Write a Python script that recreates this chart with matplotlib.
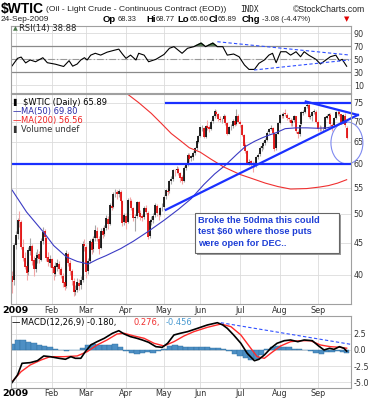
import numpy as np
import matplotlib
matplotlib.use("Agg")
import matplotlib.pyplot as plt
from matplotlib.patches import Ellipse, Rectangle

# ---- price data: trading days 30-Dec-2008 .. 24-Sep-2009 (index = trading day) ----
opens = [39.8, 39.2, 44.6, 46.4, 48.9, 48.5, 44.2, 42.5, 41.3, 40.4, 43.6, 44.4, 42.2, 40.9, 42.5, 43.1,
         42.2, 45.3, 46.9, 45.8, 42.7, 41.8, 42.3, 41.1, 40.1, 41.2, 41.6, 40.9, 39.8, 38.9, 38.4, 43.2,
         41.7, 40.6, 39.1, 37.5, 37.9, 38.8, 38.5, 39.3, 44.7, 44.3, 40.5, 42.1, 45.1, 43.9, 45.7, 47.0,
         45.6, 44.1, 46.9, 46.4, 47.5, 49.1, 48.2, 51.5, 51.2, 53.9, 54.1, 53.7, 54.2, 52.3, 48.5, 49.6,
         48.5, 52.5, 52.4, 51.0, 49.3, 49.5, 52.1, 50.2, 49.5, 49.4, 51.1, 50.2, 46.0, 48.5, 48.8, 49.7,
         51.5, 50.0, 49.8, 51.1, 51.2, 53.3, 54.4, 54.3, 56.4, 56.8, 58.5, 58.6, 58.8, 57.9, 57.1, 56.4,
         59.1, 59.8, 61.9, 61.2, 61.6, 62.4, 63.6, 65.0, 66.4, 68.5, 68.4, 66.2, 68.9, 68.5, 68.2, 70.1,
         71.4, 72.6, 71.9, 70.7, 70.4, 70.6, 71.3, 69.5, 67.0, 68.6, 68.8, 70.1, 69.3, 71.4, 70.0, 69.2,
         66.6, 64.2, 62.8, 60.2, 60.5, 59.8, 59.6, 59.6, 61.4, 62.1, 63.5, 64.1, 64.8, 65.5, 67.3, 68.2,
         68.3, 67.1, 63.5, 67.0, 69.6, 71.5, 71.5, 72.1, 71.8, 70.8, 70.5, 69.6, 70.3, 71.3, 67.4, 66.9,
         69.3, 72.3, 72.6, 74.0, 74.3, 71.2, 71.3, 72.6, 72.6, 69.9, 68.2, 68.0, 68.1, 68.2, 71.0, 71.4,
         71.8, 69.2, 69.0, 71.0, 72.4, 72.6, 71.9, 69.8, 71.5, 68.3]
highs = [40.6, 44.9, 46.9, 49.3, 50.5, 48.8, 45.6, 43.4, 42.0, 44.3, 45.7, 44.8, 42.9, 43.5, 43.9, 43.6,
         45.8, 47.6, 47.2, 46.0, 43.4, 43.0, 42.6, 41.5, 41.9, 42.3, 42.0, 41.2, 40.3, 39.2, 43.8, 43.5,
         42.2, 40.9, 39.5, 38.6, 39.6, 39.4, 39.8, 45.3, 45.6, 44.6, 42.6, 45.6, 45.8, 46.0, 47.9, 47.6,
         46.1, 47.5, 47.7, 48.0, 49.7, 49.5, 52.0, 52.4, 54.2, 54.7, 54.6, 54.8, 54.5, 52.6, 50.1, 50.2,
         52.9, 53.2, 52.7, 51.3, 50.0, 52.4, 52.3, 50.6, 50.0, 51.4, 51.7, 50.5, 49.0, 49.6, 50.1, 51.9,
         51.8, 50.5, 51.3, 52.0, 53.6, 54.8, 54.9, 56.6, 57.3, 58.8, 58.9, 59.6, 59.2, 58.3, 57.6, 59.4,
         60.1, 62.3, 62.5, 62.0, 62.8, 63.8, 65.4, 66.6, 68.7, 69.1, 68.7, 69.0, 70.3, 69.0, 70.3, 71.6,
         73.2, 73.0, 72.1, 71.3, 71.0, 71.9, 71.6, 69.8, 68.9, 69.3, 70.6, 70.5, 73.4, 71.9, 70.3, 69.4,
         66.9, 64.8, 63.2, 61.0, 60.9, 60.6, 60.3, 61.8, 62.5, 63.9, 64.3, 65.1, 65.8, 67.6, 68.4, 69.1,
         68.6, 67.3, 67.2, 69.8, 71.9, 72.2, 72.4, 73.3, 72.2, 71.1, 70.9, 70.7, 71.8, 71.5, 67.9, 69.4,
         72.7, 73.1, 74.2, 75.0, 74.6, 72.0, 72.7, 73.2, 72.9, 70.3, 69.0, 68.9, 68.6, 71.4, 72.0, 72.3,
         72.1, 69.5, 71.2, 72.8, 73.1, 72.9, 72.0, 71.9, 72.1, 68.8]
lows = [37.4, 38.6, 44.0, 45.6, 47.6, 43.9, 42.0, 40.9, 39.3, 40.0, 43.0, 41.5, 39.8, 40.4, 41.8, 41.7,
        42.0, 44.8, 45.1, 42.1, 41.3, 41.2, 40.2, 39.2, 39.8, 40.6, 40.1, 39.5, 38.2, 37.9, 38.1, 41.3,
        40.0, 38.6, 37.0, 37.1, 37.5, 37.9, 38.0, 39.0, 43.6, 39.6, 40.1, 41.8, 43.2, 43.5, 45.3, 45.2,
        43.1, 43.9, 45.8, 46.0, 47.1, 47.3, 47.9, 50.6, 51.0, 53.1, 52.8, 53.2, 52.0, 47.8, 48.0, 47.2,
        48.3, 51.8, 50.6, 48.6, 47.0, 49.2, 49.7, 48.9, 48.7, 49.1, 50.0, 45.6, 45.7, 48.0, 48.3, 49.4,
        49.6, 48.9, 49.5, 50.5, 50.9, 52.8, 53.6, 54.0, 55.8, 56.3, 57.4, 57.9, 57.6, 56.2, 55.7, 56.1,
        58.6, 59.5, 60.4, 60.6, 60.9, 62.0, 63.2, 64.8, 66.2, 67.6, 65.8, 66.0, 67.9, 67.3, 67.8, 69.7,
        71.0, 71.4, 70.2, 69.8, 69.6, 70.1, 69.2, 66.6, 66.8, 67.9, 68.3, 68.9, 69.0, 69.6, 68.6, 66.4,
        63.8, 62.4, 59.9, 59.7, 59.5, 58.3, 59.2, 59.3, 61.0, 61.8, 62.9, 63.4, 64.2, 65.2, 66.9, 67.8,
        66.7, 62.9, 63.2, 66.8, 69.3, 70.8, 70.9, 71.3, 70.3, 69.8, 68.9, 68.8, 69.9, 67.1, 65.9, 66.5,
        69.0, 71.6, 72.3, 73.6, 70.9, 70.6, 70.2, 71.9, 69.7, 67.7, 67.6, 67.5, 67.3, 68.0, 70.6, 70.9,
        68.9, 67.6, 68.7, 70.7, 71.8, 71.5, 69.3, 69.6, 68.7, 65.6]
closes = [39.0, 44.6, 46.3, 48.8, 48.6, 44.3, 42.6, 41.2, 40.2, 43.8, 44.5, 42.0, 40.8, 42.6, 43.0, 42.3,
          45.2, 46.8, 45.9, 42.6, 41.9, 42.4, 41.0, 40.2, 41.3, 41.7, 40.8, 39.9, 38.8, 38.3, 43.3, 41.8,
          40.5, 39.2, 37.6, 37.8, 38.9, 38.4, 39.2, 44.8, 44.5, 40.4, 42.0, 45.2, 43.8, 45.6, 47.1, 45.7,
          44.0, 47.0, 46.3, 47.4, 49.2, 48.1, 51.6, 51.1, 53.8, 54.0, 53.8, 54.3, 52.4, 48.4, 49.7, 48.4,
          52.6, 52.5, 51.1, 49.2, 49.4, 52.2, 50.1, 49.4, 49.3, 51.0, 50.3, 45.9, 48.6, 48.9, 49.6, 51.6,
          50.1, 49.9, 51.0, 51.1, 53.2, 54.5, 54.2, 56.3, 56.7, 58.6, 58.5, 58.9, 58.0, 57.0, 56.3, 59.0,
          59.7, 62.0, 61.1, 61.7, 62.5, 63.5, 65.1, 66.3, 68.6, 68.6, 66.1, 68.8, 68.4, 68.1, 70.0, 71.3,
          72.7, 72.0, 70.6, 70.5, 70.5, 71.4, 69.6, 66.9, 68.5, 68.7, 70.2, 69.2, 71.5, 69.9, 69.3, 66.7,
          64.1, 62.9, 60.1, 60.4, 59.9, 59.7, 59.5, 61.5, 62.0, 63.6, 64.0, 64.7, 65.4, 67.2, 68.1, 68.4,
          67.2, 63.4, 66.9, 69.5, 71.6, 71.4, 72.0, 71.9, 70.9, 70.6, 69.5, 70.2, 71.4, 67.5, 66.8, 69.2,
          72.4, 72.5, 73.9, 74.4, 71.1, 71.4, 72.5, 72.7, 70.0, 68.1, 68.1, 68.0, 68.0, 71.1, 71.3, 71.9,
          69.3, 68.9, 70.9, 72.5, 72.5, 72.0, 69.7, 71.6, 69.0, 65.9]

# moving averages (trading-day index, value)
ma50_days = [0, 8, 18, 23, 30, 36, 42, 47, 52, 60, 67, 75, 84, 92, 99, 106, 112, 118, 124, 129,
             134, 138, 142, 146, 151, 157, 163, 169, 174, 179, 185]
ma50_vals = [54.5, 50.3, 46.5, 44.5, 42.7, 42.0, 41.6, 42.3, 42.9, 44.0, 45.2, 46.8, 48.8, 50.8, 52.8,
             55.6, 57.8, 59.7, 62.0, 63.9, 65.1, 65.9, 66.6, 67.2, 68.2, 68.4, 68.4, 68.3, 68.4, 68.9, 69.8]
ma200_days = [64, 70, 77, 83, 88, 93, 98, 104, 110, 117, 126, 133, 140, 147, 154, 163, 170, 175, 180, 185]
ma200_vals = [77.3, 75.0, 72.1, 69.3, 67.0, 65.3, 63.6, 62.6, 61.0, 59.3, 57.7, 56.8, 55.9, 55.2,
              54.7, 54.8, 55.1, 55.4, 55.9, 56.6]

# RSI(14)
rsi_days = [0, 3, 5, 7.5, 10, 13, 17, 19.5, 24, 28.5, 31.5, 33.5, 36, 38, 40, 41.5, 43.5, 46, 49, 52.5,
            56.5, 59, 61, 63, 65.5, 68.5, 70, 73, 75.5, 79.5, 84, 87, 89.5, 94, 97, 100.5, 104.5, 107,
            111, 113.5, 116.5, 119, 122.5, 125.5, 128.5, 131, 134, 136.5, 139.5, 142, 144, 146, 148.5,
            151.5, 154, 157, 159.5, 161.5, 164, 168, 170.5, 173.5, 176, 179, 181, 182.5, 185]
rsi_vals = [39.5, 51, 53, 44, 48.5, 45.8, 52, 44.3, 42, 38.5, 47.4, 39, 42.3, 48.5, 52, 48.5, 56, 58.8,
            56, 60.5, 63.5, 65.2, 57.7, 51, 56, 48.5, 58.8, 56, 45.8, 49.5, 57, 66.5, 69, 58.8, 66.5, 69,
            74.5, 69, 74.5, 69, 69, 56, 57.7, 53.5, 40.8, 34, 34, 43.4, 48.5, 56, 58.8, 44.3, 61.2, 61.2,
            56, 61.2, 53.5, 61.2, 56, 49.5, 42.3, 48.5, 53.5, 56, 47.4, 49.5, 38.88]

# MACD(12,26,9)
macd_days = [0, 3, 5.5, 10, 14, 17.5, 21, 26, 29.5, 32.5, 35, 38, 40.5, 43.5, 47, 51, 55.5, 59, 62,
             65.5, 69, 72, 75.5, 79.5, 83, 86, 89.5, 93, 97, 102.5, 108, 113.5, 116.5, 119, 122.5, 126.5,
             130, 134, 136.5, 139.5, 143, 146.5, 150.5, 154, 158, 161.5, 166, 169.5, 172.5, 175.5, 178,
             181, 183.5, 185]
macd_vals = [-5.0, -3.85, -2.05, -1.95, -1.65, -0.92, -1.03, -1.28, -1.43, -1.03, -1.28, -1.28, -0.26,
             0.77, 1.28, 1.8, 2.57, 2.97, 2.46, 2.05, 1.8, 1.54, 1.18, 0.51, 0.41, 1.03, 2.31, 2.57, 2.82,
             3.33, 3.85, 4.2, 3.85, 3.33, 2.31, 1.03, -0.51, -1.65, -1.43, -0.77, 0.26, 1.03, 1.43, 1.54,
             1.28, 1.54, 1.43, 0.62, 0.0, 0.26, 0.1, 0.51, 0.26, -0.18]
signal_days = [0, 5, 10, 16, 21, 28.5, 36, 41.5, 47, 52.5, 58, 62, 67.5, 73, 78.5, 84, 89.5, 95, 100.5,
               108, 115.5, 121, 126.5, 132, 135.5, 139.5, 143, 148.5, 154, 159.5, 165, 170.5, 176, 181.5, 185]
signal_vals = [-4.87, -3.33, -2.31, -1.54, -1.03, -1.03, -0.92, -0.26, 0.77, 1.54, 2.46, 2.57, 2.15, 1.8,
               1.03, 0.62, 1.28, 2.15, 2.82, 3.49, 4.0, 3.59, 2.31, 0.26, -1.03, -1.28, -0.51, 0.62, 1.28,
               1.43, 1.43, 0.77, 0.51, 0.41, 0.276]
hist_days = list(range(0, 186, 3)) + [185]
hist_vals = [0.9, 1.5, 1.6, 1.3, 1.0, 0.8, 0.6, 0.4, 0.2, 0.0, -0.1, 0.05, -0.05, 0.3, 0.7, 0.9, 0.8, 0.7,
             0.8, 0.9, 0.5, -0.2, -0.45, -0.55, -0.4, -0.35, -0.4, -0.15, 0.2, 0.6, 0.8, 0.6, 0.5, 0.4,
             0.45, 0.5, 0.4, 0.35, 0.3, 0.1, -0.2, -0.6, -1.0, -1.3, -1.6, -1.4, -0.7, 0.2, 0.5, 0.6, 0.5,
             0.4, 0.2, 0.1, 0.0, -0.1, -0.4, -0.6, -0.3, -0.35, -0.2, -0.25, -0.46]

month_days = [2, 22, 41, 63, 84, 104, 126, 148, 169]
month_labels = ["2009", "Feb", "Mar", "Apr", "May", "Jun", "Jul", "Aug", "Sep"]

W, H = 372, 400
fig = plt.figure(figsize=(W / 100, H / 100), dpi=100)


def panel(top, bottom):
    return [11 / W, 1 - bottom / H, 340 / W, (bottom - top) / H]


def ftext(x, y, s, **kw):
    kw.setdefault("va", "center")
    kw.setdefault("parse_math", False)
    fig.text(x / W, 1 - y / H, s, **kw)


def style(ax, xlabels, pad=2.5):
    for sp in ax.spines.values():
        sp.set_color("#a0a0a0")
        sp.set_linewidth(0.8)
    ax.yaxis.tick_right()
    ax.tick_params(length=0, labelsize=5.8, labelcolor="#333333", pad=2)
    ax.set_xlim(-0.6, 187.4)
    ax.set_xticks(month_days)
    ax.grid(True, color="#dcdcdc", lw=0.6)
    ax.set_axisbelow(True)
    if xlabels:
        ax.set_xticklabels(month_labels, fontsize=5.8, color="#333333")
        ax.tick_params(axis="x", pad=pad)
        lab = ax.get_xticklabels()[0]
        lab.set_fontweight("bold")
        lab.set_fontsize(6.8)
        lab.set_color("black")
    else:
        ax.set_xticklabels([])


days = np.arange(len(closes))
o = np.array(opens)
h = np.array(highs)
l = np.array(lows)
c = np.array(closes)
prev = np.r_[o[0], c[:-1]]
up = c >= prev

# ---------------- RSI panel ----------------
ax_rsi = fig.add_axes(panel(26, 93))
style(ax_rsi, False)
ax_rsi.set_ylim(-2.3, 100.8)
ax_rsi.set_yticks([10, 30, 50, 70, 90])
ax_rsi.axhline(70, color="#8a8a8a", lw=0.9)
ax_rsi.axhline(30, color="#8a8a8a", lw=0.9)
ax_rsi.axhline(50, color="#9a9a9a", lw=0.8, ls=(0, (6, 2, 1, 2)))
rd = np.array(rsi_days)
rv = np.array(rsi_vals)
ax_rsi.fill_between(rd, rv, 70, where=rv > 70, interpolate=True, color="#4f7a4f")
ax_rsi.plot(rd, rv, color="black", lw=0.8)
ax_rsi.plot([113.5, 186.3], [76.6, 56.2], color="#3050ff", lw=0.8, ls=(0, (3, 2)))
ax_rsi.plot([133.8, 186.3], [33.1, 48.5], color="#3050ff", lw=0.8, ls=(0, (3, 2)))
ftext(13, 28.5, "\u25b2", fontsize=4.5, color="#4f7a4f")
ftext(19, 28.5, "RSI(14) 38.88", fontsize=6, color="#222222")

# ---------------- price panel ----------------
ax = fig.add_axes(panel(94, 304))
style(ax, True, pad=1.5)
ax.set_yscale("log")
ax.set_ylim(35.95, 77.4)
ticks = [40, 45, 50, 55, 60, 65, 70, 75]
ax.set_yticks(ticks)
ax.set_yticklabels([str(t) for t in ticks])
ax.yaxis.set_minor_locator(matplotlib.ticker.NullLocator())

ax.vlines(days[up], l[up], h[up], color="#a8a8a8", lw=0.8)
ax.vlines(days[~up], l[~up], h[~up], color="#f2a6a6", lw=0.8)
lo_b = np.minimum(o, c)
hi_b = np.maximum(o, c)
ax.vlines(days[up], lo_b[up], hi_b[up], color="black", lw=1.2)
ax.vlines(days[~up], lo_b[~up], hi_b[~up], color="#e00000", lw=1.2)

ax.plot(ma50_days, ma50_vals, color="#3b3bc4", lw=0.8)
ax.plot(ma200_days, ma200_vals, color="#f03030", lw=0.8)

# hand-drawn annotations
blue = "#1a30ff"
ax.axhline(60, color=blue, lw=1.6)
ax.plot([85.3, 187.4], [75, 75], color=blue, lw=1.6)
ax.plot([85, 191.2], [50.7, 71.7], color=blue, lw=1.6, clip_on=False)
ax.plot([162.4, 191.2], [75.3, 71.7], color=blue, lw=1.6, clip_on=False)
ax.add_patch(Ellipse((0.988, 0.767), 0.094, 0.2, transform=ax.transAxes, fill=False,
                     edgecolor="#7f8af0", lw=0.8, clip_on=False))

# legend
ftext(13, 102.5, "\u258c", fontsize=5, color="black")
ftext(23, 102.5, "$WTIC (Daily) 65.89", fontsize=6, color="black")
ftext(13, 111.5, "\u2014", fontsize=6, color="#2b2ba8")
ftext(21, 111.5, "MA(50) 69.80", fontsize=6, color="#2b2ba8")
ftext(13, 120.5, "\u2014", fontsize=6, color="#f02020")
ftext(21, 120.5, "MA(200) 56.56", fontsize=6, color="#f02020")
ftext(13, 129.5, "\u258c", fontsize=5, color="#333333")
ftext(21, 129.5, "Volume undef", fontsize=6, color="#333333")

# comment box
fig.patches.append(Rectangle((197 / W, 1 - 255 / H), 144 / W, 40 / H, transform=fig.transFigure,
                             facecolor="#9a9a9a", edgecolor="none", zorder=5))
fig.patches.append(Rectangle((195 / W, 1 - 253 / H), 144 / W, 40 / H, transform=fig.transFigure,
                             facecolor="white", edgecolor="#666666", lw=0.8, zorder=6))
for yy, line in zip([220, 232, 244], ["Broke the 50dma this could", "test $60 where those puts",
                                      "were open for DEC.."]):
    ftext(198, yy, line, fontsize=6.7, fontweight="bold", color="#1f3fd6",
          family="Liberation Sans", zorder=7)

# ---------------- MACD panel ----------------
axm = fig.add_axes(panel(316, 388))
style(axm, True, pad=1.0)
axm.set_ylim(-5.85, 5.23)
axm.set_yticks([2.5, 0.0, -2.5, -5.0])
axm.set_yticklabels(["2.5", "0.0", "-2.5", "-5.0"])
axm.bar(hist_days, hist_vals, width=3.0, color="#4d8fc4", edgecolor="#2f6f9f", lw=0.3)
axm.plot(signal_days, signal_vals, color="#ff2a2a", lw=1.0)
axm.plot(macd_days, macd_vals, color="black", lw=1.2)
axm.plot([115.4, 187.3], [4.2, 0.87], color="#3050ff", lw=0.8, ls=(0, (3, 2)))
ftext(12, 322.5, "\u2014", fontsize=6, color="black")
ftext(21, 322.5, "MACD(12,26,9) -0.180,", fontsize=6, color="black")
ftext(133, 322.5, "0.276,", fontsize=6, color="#f03030")
ftext(166, 322.5, "-0.456", fontsize=6, color="#4a9ad0")

# ---------------- header ----------------
ftext(1, 8.5, "$WTIC", fontsize=10, fontweight="bold", family="Liberation Sans")
ftext(46, 9.5, "(Oil - Light Crude - Continuous Contract (EOD))", fontsize=6.1, family="Liberation Sans",
      color="#222222")
ftext(240, 9.5, "INDX", fontsize=5.6, family="DejaVu Sans Mono", color="#222222")
ftext(293, 9.5, "\u00a9StockCharts.com", fontsize=6.2, family="Liberation Sans", color="#222222")
ftext(1, 19.5, "24-Sep-2009", fontsize=6.0, family="Liberation Sans", color="#222222")
for x, s, bold in [(103, "Op", True), (118, "68.33", False), (146, "Hi", True), (156, "68.77", False),
                   (177, "Lo", True), (190, "65.60", False), (209, "Cl", True), (218, "65.89", False),
                   (242, "Chg", True), (262, "-3.08 (-4.47%)", False)]:
    if bold:
        ftext(x, 19, s, fontsize=6.8, fontweight="bold", family="Liberation Sans")
    else:
        ftext(x, 19.5, s, fontsize=5.4, family="Liberation Sans", color="#222222")
ftext(344, 19.5, "\u25bc", fontsize=5, color="#e00000")

fig.savefig("out.png", dpi=100)
